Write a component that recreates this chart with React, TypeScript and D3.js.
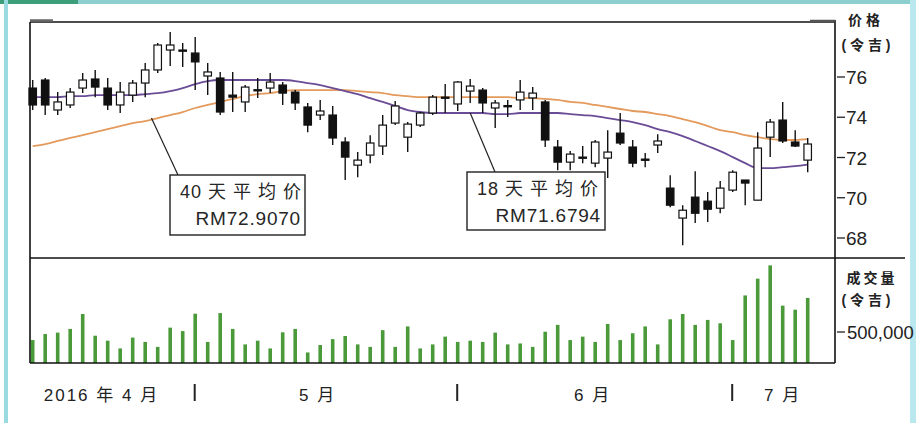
import * as d3 from 'd3';

// ---- data ----
// each candle: [open, high, low, close]
const candles: [number, number, number, number][] = [
    [75.45, 75.85, 74.36, 74.61], [75.85, 75.95, 74.11, 74.61], [74.36, 75.25, 74.11, 74.76],
    [74.61, 75.45, 74.46, 75.25], [75.45, 76.2, 75.2, 75.85], [75.9, 76.35, 75.0, 75.5],
    [75.45, 75.95, 74.36, 74.61], [74.61, 75.75, 74.21, 75.25], [75.1, 75.85, 74.76, 75.7],
    [75.7, 76.7, 75.0, 76.35], [76.35, 77.69, 76.2, 77.59], [77.34, 78.24, 76.55, 77.59],
    [77.34, 77.69, 76.5, 77.32], [77.19, 77.99, 75.35, 76.75], [76.05, 76.7, 75.1, 76.25],
    [75.95, 76.25, 74.11, 74.26], [75.1, 76.25, 74.26, 75.0], [74.76, 75.6, 74.26, 75.5],
    [75.35, 75.95, 74.96, 75.37], [75.45, 76.2, 75.2, 75.75], [75.6, 75.75, 74.61, 75.2],
    [75.25, 75.35, 74.36, 74.71], [74.51, 74.71, 73.26, 73.61], [74.11, 74.86, 73.86, 74.31],
    [74.11, 74.56, 72.62, 72.97], [72.77, 73.01, 70.88, 72.02], [71.62, 72.27, 71.02, 71.87],
    [72.12, 73.11, 71.72, 72.72], [72.57, 74.11, 72.12, 73.61], [73.71, 74.81, 73.61, 74.56],
    [73.01, 73.76, 72.27, 73.66], [73.61, 74.26, 73.51, 74.21], [74.21, 75.1, 74.11, 75.0],
    [74.96, 75.65, 74.21, 75.0], [74.66, 75.8, 74.31, 75.75], [75.3, 75.9, 74.71, 75.55],
    [75.35, 75.45, 74.21, 74.71], [74.46, 74.86, 73.46, 74.71], [74.56, 74.86, 74.01, 74.58],
    [74.86, 75.85, 74.36, 75.25], [74.96, 75.5, 74.36, 75.2], [74.76, 74.86, 72.52, 72.87],
    [72.52, 72.87, 71.37, 71.77], [71.77, 72.32, 71.37, 72.17], [72.02, 72.57, 71.72, 71.97],
    [71.72, 72.87, 71.52, 72.77], [71.97, 73.36, 70.98, 72.27], [73.21, 74.21, 72.62, 72.72],
    [72.52, 72.87, 71.52, 71.72], [71.92, 72.22, 71.52, 71.87], [72.62, 73.16, 72.22, 72.82],
    [70.48, 71.12, 69.53, 69.63], [68.99, 69.63, 67.64, 69.38], [70.03, 71.32, 68.74, 69.23],
    [69.83, 70.28, 68.79, 69.43], [69.48, 70.83, 69.23, 70.48], [70.38, 71.37, 70.28, 71.27],
    [70.88, 70.88, 69.63, 70.73], [69.88, 73.26, 69.88, 72.47], [73.01, 73.91, 72.02, 73.76],
    [73.86, 74.76, 72.72, 72.82], [72.77, 73.36, 72.52, 72.57], [71.87, 72.97, 71.27, 72.67],
];

const volumes = [
    370000, 467000, 490000, 550000, 790000, 440000, 360000, 235000, 410000, 340000,
    260000, 570000, 515000, 795000, 340000, 805000, 550000, 300000, 360000, 235000,
    495000, 550000, 170000, 290000, 385000, 435000, 300000, 260000, 530000, 260000,
    590000, 235000, 300000, 425000, 340000, 360000, 340000, 490000, 300000, 315000,
    260000, 505000, 615000, 370000, 425000, 340000, 630000, 370000, 480000, 590000,
    300000, 705000, 790000, 615000, 695000, 640000, 370000, 1090000, 1360000, 1575000,
    925000, 860000, 1050000,
];

const ma18 = [
    75.0, 75.0, 75.0, 75.05, 75.05, 75.1, 75.1, 75.1, 75.1, 75.15,
    75.2, 75.3, 75.45, 75.65, 75.8, 75.85, 75.85, 75.85, 75.85, 75.85,
    75.85, 75.8, 75.7, 75.6, 75.45, 75.3, 75.15, 74.95, 74.76, 74.56,
    74.36, 74.26, 74.21, 74.21, 74.21, 74.21, 74.21, 74.16, 74.16, 74.21,
    74.21, 74.21, 74.21, 74.16, 74.11, 74.06, 73.96, 73.86, 73.76, 73.61,
    73.41, 73.26, 73.06, 72.82, 72.57, 72.32, 72.02, 71.72, 71.47, 71.47,
    71.52, 71.57, 71.65,
];

const ma40 = [
    72.57, 72.67, 72.82, 72.97, 73.11, 73.26, 73.41, 73.56, 73.71, 73.81,
    73.96, 74.11, 74.26, 74.46, 74.61, 74.76, 74.91, 75.05, 75.15, 75.2,
    75.3, 75.35, 75.35, 75.35, 75.35, 75.35, 75.3, 75.25, 75.2, 75.1,
    75.05, 75.0, 75.0, 75.0, 75.0, 75.0, 75.0, 75.0, 75.0, 74.95,
    74.95, 74.91, 74.86, 74.76, 74.71, 74.61, 74.51, 74.41, 74.31, 74.26,
    74.16, 74.06, 73.91, 73.76, 73.56, 73.36, 73.26, 73.11, 73.01, 72.91,
    72.87, 72.87, 72.91,
];

const priceTicks = [76, 74, 72, 70, 68];
const volumeTicks = [500000];

// month labels placed by candle index
const monthBreaks = [13, 34, 56];
const monthLabels = [
    { label: '2016 年 4 月', at: 5.5 },
    { label: '5 月', at: 22.8 },
    { label: '6 月', at: 44.8 },
    { label: '7 月', at: 60 },
];

const notes = [
    { title: '40 天 平 均 价', value: 'RM72.9070', series: 'ma40', at: 9.5, box: [170, 175, 135, 60], hook: 8 },
    { title: '18 天 平 均 价', value: 'RM71.6794', series: 'ma18', at: 35, box: [467, 172, 138, 58], hook: 28 },
];

const FONT = '"Liberation Sans", "Noto Sans CJK SC", sans-serif';

function App() {
    const width = 916;
    const height = 423;

    const left = 30;
    const right = 835;
    const top = 22;
    const split = 258;
    const bottom = 363;

    const x = d3.scaleLinear().domain([0, candles.length - 1]).range([32.7, 807.7]);
    const y = d3.scaleLinear().domain([68, 76]).range([238, 77]);
    const yVol = d3.scaleLinear().domain([0, 500000]).range([bottom, 332]);

    const line = d3.line<number>()
        .x((_, i) => x(i))
        .y((d) => y(d))
        .curve(d3.curveMonotoneX);

    const bodyW = 7.5;

    return (
        <svg width={width} height={height} style={{ position: 'absolute', left: 0, top: 0, background: '#fff' }}>
            {/* outer frame */}
            <rect x={0} y={0} width={width} height={4} fill="#8dcfcf" />
            <rect x={0} y={0} width={78} height={4} fill="#3d9e7c" />
            <rect x={4} y={0} width={4} height={height} fill="#9adbe2" />
            <rect x={910} y={0} width={6} height={height} fill="#b9e8ee" />

            <defs>
                <clipPath id="price-clip">
                    <rect x={left} y={top} width={right - left} height={split - top} />
                </clipPath>
            </defs>

            {/* moving averages */}
            <g clipPath="url(#price-clip)" fill="none">
                <path d={line(ma40) ?? ''} stroke="#e39a5c" strokeWidth={1.8} />
                <path d={line(ma18) ?? ''} stroke="#6a4c96" strokeWidth={1.8} />
            </g>

            {/* candles */}
            <g>
                {candles.map(([o, h, l, c], i) => {
                    const cx = x(i);
                    const up = c >= o;
                    const y0 = y(Math.max(o, c));
                    const y1 = y(Math.min(o, c));
                    const bh = Math.max(1.2, y1 - y0);
                    return (
                        <g key={i}>
                            <line x1={cx} x2={cx} y1={y(h)} y2={y(l)} stroke="#111" strokeWidth={1.4} />
                            <rect
                                x={cx - bodyW / 2}
                                y={y0}
                                width={bodyW}
                                height={bh}
                                fill={up ? '#fff' : '#111'}
                                stroke="#111"
                                strokeWidth={1.2}
                            />
                        </g>
                    );
                })}
            </g>

            {/* annotations */}
            {notes.map((n) => {
                const [bx, by, bw, bh] = n.box;
                const vals = n.series === 'ma40' ? ma40 : ma18;
                const px = x(n.at);
                const py = y(vals[Math.round(n.at)]);
                return (
                    <g key={n.title} fontFamily={FONT} fill="#262626">
                        <line x1={px} y1={py} x2={bx + n.hook} y2={by} stroke="#222" strokeWidth={1.2} />
                        <rect x={bx} y={by} width={bw} height={bh} fill="#fff" stroke="#222" strokeWidth={1.4} />
                        <text x={bx + 10} y={by + 23} fontSize={18} letterSpacing={1}>{n.title}</text>
                        <text x={bx + bw - 4} y={by + 50} fontSize={19} letterSpacing={0.8} textAnchor="end">{n.value}</text>
                    </g>
                );
            })}

            {/* volume bars */}
            <g>
                {volumes.map((v, i) => (
                    <rect key={i} x={x(i) - 1.8} y={yVol(v)} width={3.6} height={bottom - yVol(v)} fill="#4a9a3a" />
                ))}
            </g>

            {/* panel frames */}
            <g stroke="#111" strokeWidth={1.6} fill="none">
                <line x1={left} y1={top} x2={right} y2={top} />
                <line x1={left} y1={top} x2={left} y2={bottom} />
                <line x1={right} y1={top - 2} x2={right} y2={bottom} />
                <line x1={left} y1={bottom} x2={right} y2={bottom} />
                <line x1={left} y1={split} x2={905} y2={split} />
            </g>
            <line x1={left} y1={20.5} x2={53} y2={20.5} stroke="#666" strokeWidth={2.5} />
            <line x1={810} y1={21} x2={right} y2={21} stroke="#555" strokeWidth={2.5} />

            {/* price axis */}
            <g fontFamily={FONT} fill="#222">
                {priceTicks.map((t) => (
                    <g key={t}>
                        <line x1={right + 2} x2={right + 10} y1={y(t)} y2={y(t)} stroke="#222" strokeWidth={1.3} />
                        <text x={right + 11} y={y(t) + 7} fontSize={19}>{t}</text>
                    </g>
                ))}
                <text x={866} y={25} fontSize={14} fontWeight="bold" textAnchor="middle" letterSpacing={4}>价格</text>
                <text x={866} y={50} fontSize={14} fontWeight="bold" textAnchor="middle">( 令 吉 )</text>
                <text x={872} y={283} fontSize={14} fontWeight="bold" textAnchor="middle" letterSpacing={3}>成交量</text>
                <text x={866} y={305} fontSize={14} fontWeight="bold" textAnchor="middle">( 令 吉 )</text>
                {volumeTicks.map((t) => (
                    <g key={t}>
                        <line x1={right + 2} x2={right + 10} y1={yVol(t)} y2={yVol(t)} stroke="#222" strokeWidth={1.3} />
                        <text x={right + 12} y={yVol(t) + 7} fontSize={18.5}>{d3.format(',')(t)}</text>
                    </g>
                ))}
            </g>

            {/* month axis */}
            <g fontFamily={FONT} fill="#222">
                {monthBreaks.map((m) => (
                    <line key={m} x1={x(m) - 0.5} x2={x(m) - 0.5} y1={384} y2={401} stroke="#222" strokeWidth={2} />
                ))}
                {monthLabels.map((m) => (
                    <text key={m.label} x={x(m.at)} y={401} fontSize={17} letterSpacing={2} textAnchor="middle">{m.label}</text>
                ))}
            </g>
        </svg>
    );
}

export default App;
